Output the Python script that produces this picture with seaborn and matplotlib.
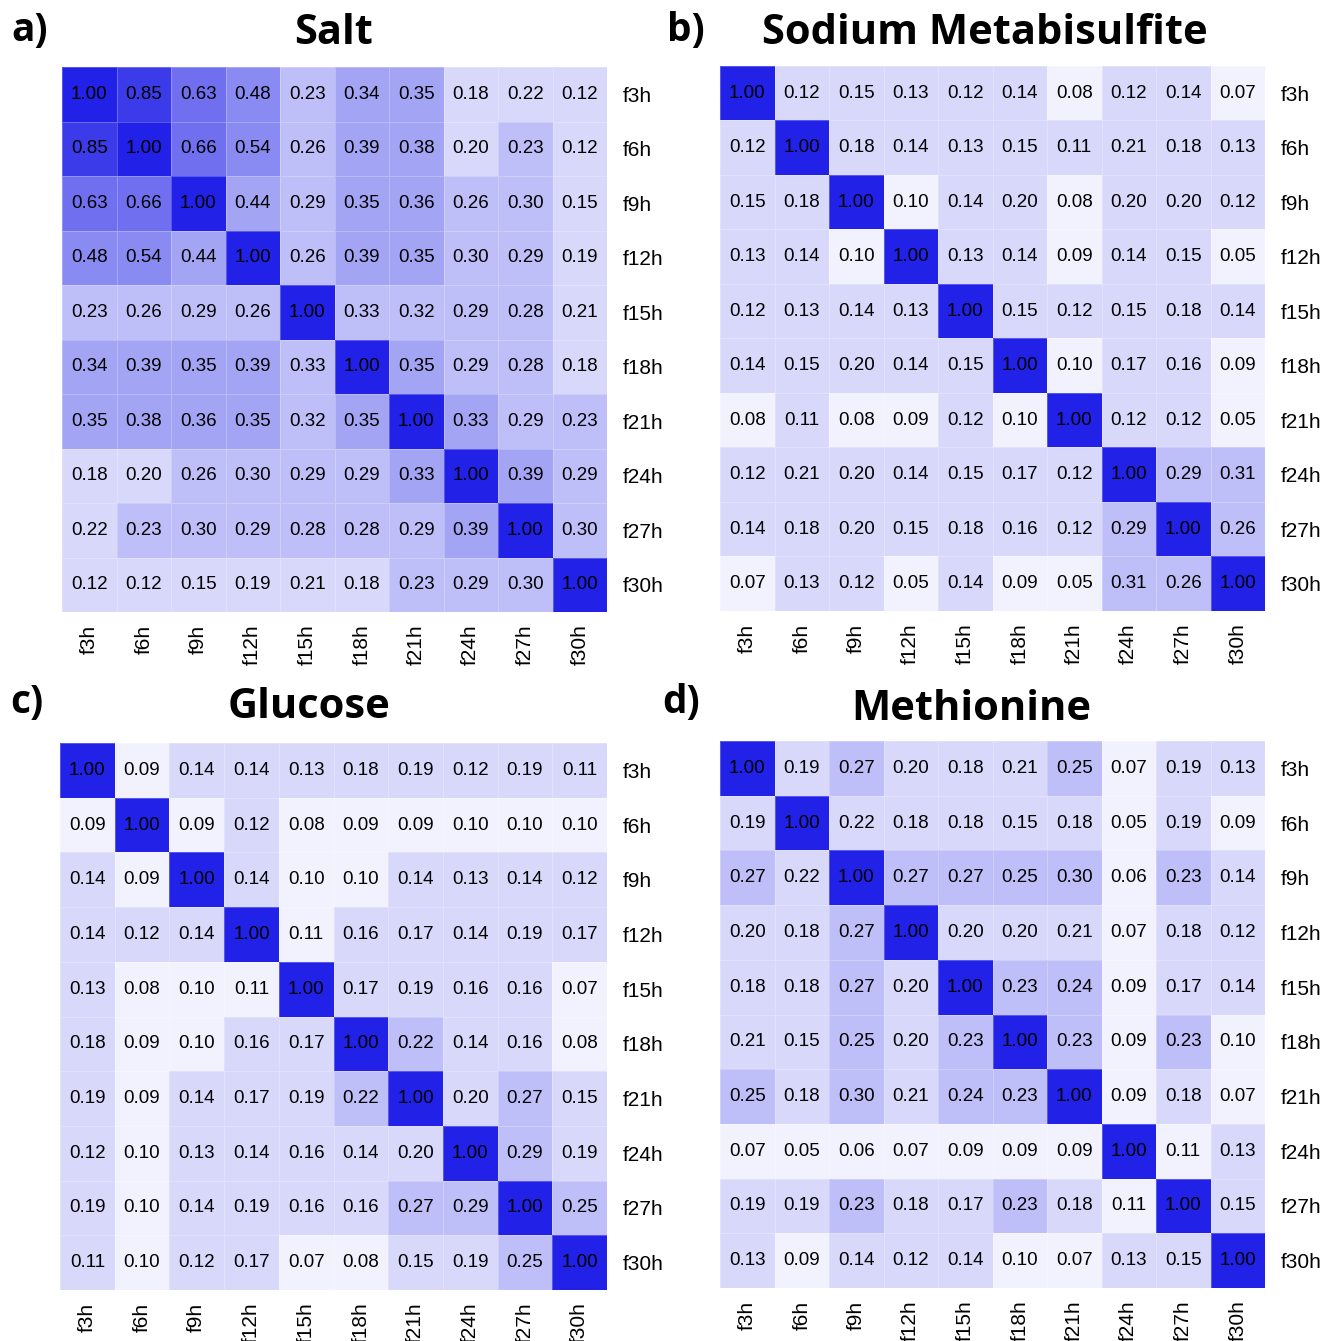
import matplotlib
matplotlib.use("Agg")
import matplotlib.pyplot as plt
from matplotlib.colors import ListedColormap
import seaborn as sns
import numpy as np
import pandas as pd

plt.rcParams['font.family'] = ['Liberation Sans', 'DejaVu Sans']

# rotulos das amostras
horas = ['f3h', 'f6h', 'f9h', 'f12h', 'f15h', 'f18h', 'f21h', 'f24h', 'f27h', 'f30h']

# matrizes de correlacao
salt = [
    [1.00, 0.85, 0.63, 0.48, 0.23, 0.34, 0.35, 0.18, 0.22, 0.12],
    [0.85, 1.00, 0.66, 0.54, 0.26, 0.39, 0.38, 0.20, 0.23, 0.12],
    [0.63, 0.66, 1.00, 0.44, 0.29, 0.35, 0.36, 0.26, 0.30, 0.15],
    [0.48, 0.54, 0.44, 1.00, 0.26, 0.39, 0.35, 0.30, 0.29, 0.19],
    [0.23, 0.26, 0.29, 0.26, 1.00, 0.33, 0.32, 0.29, 0.28, 0.21],
    [0.34, 0.39, 0.35, 0.39, 0.33, 1.00, 0.35, 0.29, 0.28, 0.18],
    [0.35, 0.38, 0.36, 0.35, 0.32, 0.35, 1.00, 0.334, 0.29, 0.23],
    [0.18, 0.20, 0.26, 0.30, 0.29, 0.29, 0.334, 1.00, 0.39, 0.29],
    [0.22, 0.23, 0.30, 0.29, 0.28, 0.28, 0.29, 0.39, 1.00, 0.30],
    [0.12, 0.12, 0.15, 0.19, 0.21, 0.18, 0.23, 0.29, 0.30, 1.00],
]

sodium = [
    [1.00, 0.12, 0.15, 0.13, 0.12, 0.14, 0.08, 0.12, 0.14, 0.07],
    [0.12, 1.00, 0.18, 0.14, 0.13, 0.15, 0.112, 0.21, 0.18, 0.13],
    [0.15, 0.18, 1.00, 0.10, 0.14, 0.20, 0.08, 0.20, 0.20, 0.12],
    [0.13, 0.14, 0.10, 1.00, 0.13, 0.14, 0.09, 0.14, 0.15, 0.05],
    [0.12, 0.13, 0.14, 0.13, 1.00, 0.15, 0.12, 0.15, 0.18, 0.14],
    [0.14, 0.15, 0.20, 0.14, 0.15, 1.00, 0.10, 0.17, 0.16, 0.09],
    [0.08, 0.112, 0.08, 0.09, 0.12, 0.10, 1.00, 0.12, 0.12, 0.05],
    [0.12, 0.21, 0.20, 0.14, 0.15, 0.17, 0.12, 1.00, 0.29, 0.31],
    [0.14, 0.18, 0.20, 0.15, 0.18, 0.16, 0.12, 0.29, 1.00, 0.26],
    [0.07, 0.13, 0.12, 0.05, 0.14, 0.09, 0.05, 0.31, 0.26, 1.00],
]

glucose = [
    [1.00, 0.09, 0.14, 0.14, 0.13, 0.18, 0.19, 0.12, 0.19, 0.112],
    [0.09, 1.00, 0.09, 0.12, 0.08, 0.09, 0.09, 0.10, 0.10, 0.10],
    [0.14, 0.09, 1.00, 0.14, 0.10, 0.10, 0.14, 0.13, 0.14, 0.12],
    [0.14, 0.12, 0.14, 1.00, 0.11, 0.16, 0.17, 0.14, 0.19, 0.17],
    [0.13, 0.08, 0.10, 0.11, 1.00, 0.17, 0.19, 0.16, 0.16, 0.07],
    [0.18, 0.09, 0.10, 0.16, 0.17, 1.00, 0.223, 0.14, 0.16, 0.08],
    [0.19, 0.09, 0.14, 0.17, 0.19, 0.223, 1.00, 0.20, 0.27, 0.15],
    [0.12, 0.10, 0.13, 0.14, 0.16, 0.14, 0.20, 1.00, 0.29, 0.19],
    [0.19, 0.10, 0.14, 0.19, 0.16, 0.16, 0.27, 0.29, 1.00, 0.25],
    [0.112, 0.10, 0.12, 0.17, 0.07, 0.08, 0.15, 0.19, 0.25, 1.00],
]

methionine = [
    [1.00, 0.19, 0.27, 0.20, 0.18, 0.21, 0.25, 0.07, 0.19, 0.13],
    [0.19, 1.00, 0.22, 0.18, 0.18, 0.15, 0.18, 0.05, 0.19, 0.09],
    [0.27, 0.22, 1.00, 0.27, 0.27, 0.25, 0.30, 0.06, 0.23, 0.14],
    [0.20, 0.18, 0.27, 1.00, 0.20, 0.20, 0.21, 0.07, 0.18, 0.12],
    [0.18, 0.18, 0.27, 0.20, 1.00, 0.23, 0.24, 0.09, 0.17, 0.14],
    [0.21, 0.15, 0.25, 0.20, 0.23, 1.00, 0.23, 0.09, 0.23, 0.10],
    [0.25, 0.18, 0.30, 0.21, 0.24, 0.23, 1.00, 0.09, 0.18, 0.07],
    [0.07, 0.05, 0.06, 0.07, 0.09, 0.09, 0.09, 1.00, 0.11, 0.13],
    [0.19, 0.19, 0.23, 0.18, 0.17, 0.23, 0.18, 0.11, 1.00, 0.15],
    [0.13, 0.09, 0.14, 0.12, 0.14, 0.10, 0.07, 0.13, 0.15, 1.00],
]

# paleta discreta: 9 niveis do branco ao azul
azul = np.array([20, 20, 230]) / 255
cores = [tuple(1 - t * (1 - azul)) for t in (np.arange(9) + 0.5) / 9]
paleta = ListedColormap(cores)

W, H = 1325, 1341
fig = plt.figure(figsize=(W / 100, H / 100), dpi=100)

# (dados, titulo, letra, caixa do heatmap em px, centro titulo, centro letra)
paineis = [
    (salt, 'Salt', 'a)', (62, 67, 607, 612), (334, 34), (30, 30)),
    (sodium, 'Sodium Metabisulfite', 'b)', (720, 66, 1265, 611), (985, 34), (686, 30)),
    (glucose, 'Glucose', 'c)', (60, 743, 607, 1290), (309, 707), (27, 703)),
    (methionine, 'Methionine', 'd)', (720, 741, 1265, 1288), (971, 710), (681, 703)),
]

for dados, titulo, letra, (x0, y0, x1, y1), (tx, ty), (lx, ly) in paineis:
    ax = fig.add_axes([x0 / W, 1 - y1 / H, (x1 - x0) / W, (y1 - y0) / H])
    df = pd.DataFrame(dados, index=horas, columns=horas)
    sns.heatmap(df, ax=ax, cmap=paleta, vmin=0, vmax=1, cbar=False,
                annot=True, fmt='.2f',
                annot_kws={'color': 'black', 'fontsize': 13.5},
                linewidths=0.5, linecolor=(1, 1, 1, 0.25))
    ax.yaxis.tick_right()
    ax.tick_params(axis='both', length=0, labelsize=15)
    ax.tick_params(axis='y', pad=11)
    ax.tick_params(axis='x', pad=9)
    plt.setp(ax.get_yticklabels(), rotation=0)
    plt.setp(ax.get_xticklabels(), rotation=90)
    ax.set_xlabel('')
    ax.set_ylabel('')
    fig.text(tx / W, 1 - ty / H, titulo, ha='center', va='center',
             fontsize=30, fontweight='bold', family='Open Sans')
    fig.text(lx / W, 1 - ly / H, letra, ha='center', va='center',
             fontsize=28, fontweight='bold', family='Open Sans')

fig.savefig('out.png', dpi=100)
